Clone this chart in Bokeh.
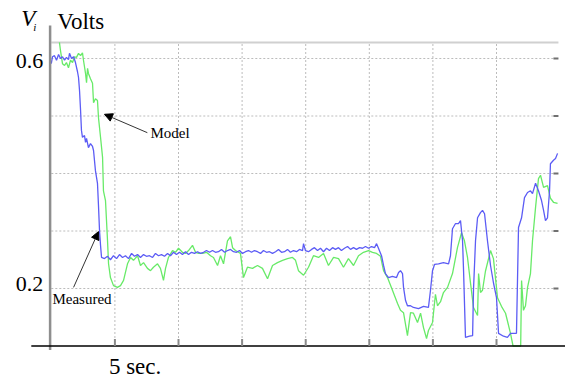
from bokeh.plotting import figure
from bokeh.models import Range1d, Arrow, NormalHead
from bokeh.core.properties import value
from bokeh.embed import file_html
from bokeh.resources import INLINE

# Measured (blue): time in seconds, voltage in volts
meas_t = [0.0, 0.09, 0.25, 0.41, 0.57, 0.72, 0.88, 1.04, 1.19, 1.35, 1.43, 1.59, 1.75, 1.90, 2.06, 2.14,
          2.22, 2.30, 2.37, 2.45, 2.61, 2.69, 2.77, 2.92, 3.08, 3.24, 3.32, 3.47, 3.63, 3.71, 3.79, 3.87,
          3.95, 4.18, 4.42, 4.65, 4.89, 5.13, 5.36, 5.60, 5.83, 6.07, 6.31, 6.54, 6.78, 7.01, 7.25, 7.48,
          7.72, 7.96, 8.19, 8.43, 8.66, 8.90, 9.14, 9.37, 9.61, 9.84, 10.08, 10.31, 10.55, 10.79, 11.02,
          11.26, 11.49, 11.73, 11.97, 12.20, 12.44, 12.67, 12.91, 13.14, 13.38, 13.62, 13.85, 14.09,
          14.32, 14.56, 14.80, 15.03, 15.27, 15.50, 15.74, 15.97, 16.21, 16.45, 16.68, 16.92, 17.15,
          17.39, 17.63, 17.86, 18.10, 18.33, 18.57, 18.80, 19.04, 19.28, 19.51, 19.75, 19.83, 19.98,
          20.22, 20.46, 20.69, 20.93, 21.16, 21.40, 21.64, 21.87, 22.11, 22.34, 22.58, 22.81, 23.05,
          23.29, 23.52, 23.76, 23.99, 24.23, 24.47, 24.70, 24.94, 25.17, 25.41, 25.57, 25.72, 25.96,
          26.12, 26.27, 26.51, 26.82, 27.14, 27.30, 27.45, 27.61, 27.69, 27.85, 28.00, 28.24, 28.47,
          28.87, 29.26, 29.65, 29.81, 29.97, 30.13, 30.44, 30.83, 31.23, 31.38, 31.54, 31.78, 32.01,
          32.17, 32.33, 32.41, 32.56, 32.88, 33.12, 33.19, 33.35, 33.51, 33.74, 33.90, 34.06, 34.29,
          34.53, 34.76, 35.00, 35.16, 35.55, 35.86, 36.10, 36.57, 36.73, 36.97, 37.20, 37.44, 37.67,
          37.83, 38.07, 38.30, 38.54, 38.70, 38.85, 39.01, 39.17, 39.24, 39.48, 39.64, 39.80]
meas_v = [0.591, 0.603, 0.605, 0.597, 0.607, 0.600, 0.603, 0.597, 0.602, 0.598, 0.609, 0.600, 0.603, 0.593,
          0.577, 0.567, 0.544, 0.510, 0.475, 0.463, 0.466, 0.454, 0.461, 0.445, 0.452, 0.447, 0.440,
          0.405, 0.383, 0.344, 0.301, 0.275, 0.254, 0.252, 0.256, 0.250, 0.257, 0.252, 0.259, 0.254,
          0.257, 0.252, 0.261, 0.256, 0.259, 0.254, 0.259, 0.256, 0.257, 0.254, 0.261, 0.257, 0.259,
          0.256, 0.261, 0.257, 0.263, 0.259, 0.263, 0.259, 0.264, 0.259, 0.263, 0.261, 0.264, 0.261,
          0.263, 0.266, 0.263, 0.266, 0.263, 0.264, 0.268, 0.263, 0.266, 0.268, 0.264, 0.263, 0.266,
          0.261, 0.264, 0.266, 0.263, 0.266, 0.264, 0.261, 0.266, 0.263, 0.264, 0.261, 0.264, 0.268,
          0.263, 0.264, 0.268, 0.263, 0.266, 0.264, 0.268, 0.266, 0.278, 0.266, 0.264, 0.268, 0.271,
          0.266, 0.270, 0.264, 0.270, 0.266, 0.271, 0.268, 0.271, 0.266, 0.270, 0.273, 0.268, 0.271,
          0.268, 0.271, 0.270, 0.273, 0.270, 0.273, 0.271, 0.278, 0.270, 0.257, 0.240, 0.226, 0.219,
          0.221, 0.219, 0.228, 0.231, 0.226, 0.202, 0.179, 0.170, 0.170, 0.167, 0.165, 0.169, 0.167,
          0.197, 0.231, 0.242, 0.243, 0.245, 0.243, 0.257, 0.304, 0.313, 0.313, 0.318, 0.283, 0.231,
          0.115, 0.117, 0.118, 0.197, 0.283, 0.323, 0.332, 0.336, 0.330, 0.283, 0.240, 0.210, 0.184,
          0.122, 0.117, 0.115, 0.122, 0.122, 0.306, 0.323, 0.358, 0.367, 0.370, 0.365, 0.383, 0.370,
          0.353, 0.336, 0.318, 0.323, 0.370, 0.417, 0.423, 0.426, 0.435]

# Model (green)
model_t = [0.64, 0.72, 0.88, 1.04, 1.19, 1.35, 1.51, 1.67, 1.82, 1.98, 2.14, 2.30, 2.45, 2.53, 2.69, 2.77,
           2.85, 2.92, 3.08, 3.24, 3.32, 3.47, 3.63, 3.71, 3.87, 4.03, 4.10, 4.26, 4.42, 4.50, 4.65,
           4.89, 5.20, 5.44, 5.68, 5.99, 6.23, 6.46, 6.78, 7.01, 7.25, 7.56, 7.80, 8.03, 8.35, 8.58,
           8.82, 8.98, 9.21, 9.53, 9.76, 10.00, 10.31, 10.55, 10.79, 11.10, 11.34, 11.57, 11.89, 12.20,
           12.52, 12.75, 13.07, 13.30, 13.54, 13.85, 14.09, 14.25, 14.48, 14.87, 15.11, 15.42, 15.82,
           16.21, 16.60, 17.00, 17.39, 17.78, 18.18, 18.57, 18.96, 19.20, 19.43, 19.83, 20.22, 20.61,
           21.01, 21.40, 21.79, 22.19, 22.58, 22.97, 23.36, 23.76, 24.15, 24.54, 24.94, 25.25, 25.57,
           25.88, 26.12, 26.43, 26.82, 27.22, 27.45, 27.69, 28.00, 28.24, 28.47, 28.79, 29.03, 29.26,
           29.50, 29.65, 29.97, 30.20, 30.36, 30.60, 30.83, 31.15, 31.54, 31.93, 32.25, 32.48, 32.72,
           32.96, 33.19, 33.51, 33.59, 33.74, 33.90, 34.13, 34.53, 34.76, 35.08, 35.39, 35.71, 36.10,
           36.30, 36.90, 36.97, 37.12, 37.28, 37.44, 37.67, 37.83, 38.07, 38.30, 38.46, 38.70, 39.01,
           39.24, 39.48, 39.80]
model_v = [0.628, 0.614, 0.591, 0.588, 0.593, 0.584, 0.597, 0.593, 0.603, 0.602, 0.609, 0.605, 0.610,
           0.597, 0.574, 0.558, 0.583, 0.574, 0.565, 0.557, 0.523, 0.530, 0.527, 0.497, 0.463, 0.428,
           0.370, 0.353, 0.283, 0.243, 0.219, 0.205, 0.202, 0.205, 0.214, 0.243, 0.254, 0.249, 0.257,
           0.240, 0.245, 0.235, 0.231, 0.237, 0.243, 0.235, 0.214, 0.235, 0.254, 0.266, 0.263, 0.270,
           0.263, 0.261, 0.266, 0.275, 0.263, 0.261, 0.261, 0.263, 0.257, 0.254, 0.240, 0.257, 0.243,
           0.283, 0.290, 0.271, 0.266, 0.261, 0.219, 0.237, 0.235, 0.240, 0.235, 0.217, 0.240, 0.245,
           0.249, 0.252, 0.254, 0.249, 0.231, 0.223, 0.237, 0.257, 0.254, 0.261, 0.240, 0.254, 0.252,
           0.237, 0.252, 0.240, 0.257, 0.263, 0.266, 0.263, 0.261, 0.256, 0.231, 0.219, 0.197, 0.174,
           0.162, 0.158, 0.118, 0.158, 0.157, 0.141, 0.157, 0.132, 0.113, 0.127, 0.141, 0.190, 0.170,
           0.177, 0.193, 0.202, 0.226, 0.271, 0.297, 0.283, 0.254, 0.209, 0.167, 0.153, 0.226, 0.193,
           0.197, 0.230, 0.266, 0.252, 0.184, 0.169, 0.157, 0.122, 0.100, 0.100, 0.214, 0.162, 0.170,
           0.202, 0.226, 0.283, 0.341, 0.391, 0.397, 0.376, 0.379, 0.357, 0.350, 0.348]

x_grid_ticks = [5, 10, 15, 20, 25, 30, 35]
y_grid_ticks = [0.2, 0.3, 0.4, 0.5, 0.6]
y_labels = ["0.6", "0.2"]
y_label_vals = [0.6, 0.2]
x_label = "5 sec."
x_label_val = 5

# plot-area limits (time, volts)
X0, X1 = 0.0, 39.87
Y0, Y1 = 0.1, 0.628

SERIF = "Liberation Serif"
PX = 12.72   # pixels per second
PY = 575.0   # pixels per volt

p = figure(width=565, height=380, output_backend="svg", toolbar_location=None,
           x_range=Range1d(-3.994, 40.424), y_range=Range1d(0.04, 0.7009),
           min_border=0)
p.axis.visible = False
p.grid.visible = False
p.outline_line_color = None
p.background_fill_color = "white"
p.border_fill_color = "white"

# dotted grid
p.segment(x0=x_grid_ticks, y0=[Y0] * len(x_grid_ticks), x1=x_grid_ticks, y1=[Y1] * len(x_grid_ticks),
          line_color="#bcbcbc", line_width=1, line_dash="2 2")
p.segment(x0=[X0] * len(y_grid_ticks), y0=y_grid_ticks, x1=[X1] * len(y_grid_ticks), y1=y_grid_ticks,
          line_color="#bcbcbc", line_width=1, line_dash="2 2")

# top border
p.segment(x0=[X0], y0=[Y1], x1=[X1], y1=[Y1], line_color="#d0d0d0", line_width=2)

# right inward ticks
p.segment(x0=[X1 - 5 / PX] * len(y_grid_ticks), y0=y_grid_ticks, x1=[X1] * len(y_grid_ticks),
          y1=y_grid_ticks, line_color="#707070", line_width=2)

# series
p.line(model_t, model_v, line_color="#68ea68", line_width=1.3)
p.line(meas_t, meas_v, line_color="#5c5cf5", line_width=1.3)

# left axis line (gray, extends beyond plot area)
p.segment(x0=[X0 - 1.2 / PX], y0=[Y1 + 17 / PY], x1=[X0 - 1.2 / PX], y1=[Y0 - 4 / PY],
          line_color="#8e8e8e", line_width=2.5)
# bottom axis line (black)
p.segment(x0=[X0 - 20 / PX], y0=[Y0], x1=[40.42], y1=[Y0], line_color="black", line_width=1.5)
# bottom inward ticks
p.segment(x0=x_grid_ticks, y0=[Y0] * len(x_grid_ticks), x1=x_grid_ticks,
          y1=[Y0 + 7 / PY] * len(x_grid_ticks), line_color="#8a8a8a", line_width=2)

# y tick labels
p.text(x=[X0 - 8 / PX], y=[y_label_vals[0]], text=[y_labels[0]], y_offset=2,
       text_font=value(SERIF), text_font_size=value("22px"), text_align="right",
       text_baseline="alphabetic", text_color="black")
p.text(x=[X0 - 8 / PX], y=[y_label_vals[1]], text=[y_labels[1]], y_offset=-5,
       text_font=value(SERIF), text_font_size=value("22px"), text_align="right",
       text_baseline="alphabetic", text_color="black")

# x label
p.text(x=[x_label_val], y=[Y0], text=[x_label], x_offset=-6, y_offset=20,
       text_font=value(SERIF), text_font_size=value("23px"), text_align="left",
       text_baseline="alphabetic", text_color="black")

# title  V_i  Volts
p.text(x=[X0], y=[Y1], text=["V"], x_offset=-30, y_offset=-24,
       text_font=value(SERIF), text_font_style="italic", text_font_size=value("23px"),
       text_baseline="alphabetic", text_color="black")
p.text(x=[X0], y=[Y1], text=["i"], x_offset=-18, y_offset=-15,
       text_font=value(SERIF), text_font_style="italic", text_font_size=value("11px"),
       text_baseline="alphabetic", text_color="black")
p.text(x=[X0], y=[Y1], text=["Volts"], x_offset=6, y_offset=-21,
       text_font=value(SERIF), text_font_size=value("23px"),
       text_baseline="alphabetic", text_color="black")

# annotations
p.add_layout(Arrow(end=NormalHead(size=8, fill_color="black", line_color="black"),
                   x_start=7.55, y_start=0.471, x_end=4.18, y_end=0.503,
                   line_color="#333333", line_width=1))
p.text(x=[7.8], y=[0.461], text=["Model"], y_offset=-5, text_font=value(SERIF),
       text_font_size=value("15px"), text_baseline="alphabetic", text_color="black")
p.add_layout(Arrow(end=NormalHead(size=8, fill_color="black", line_color="black"),
                   x_start=1.75, y_start=0.202, x_end=3.71, y_end=0.299,
                   line_color="#333333", line_width=1))
p.text(x=[0.09], y=[0.174], text=["Measured"], y_offset=-4, text_font=value(SERIF),
       text_font_size=value("15px"), text_baseline="alphabetic", text_color="black")

open("out.html", "w").write(file_html(p, INLINE))
